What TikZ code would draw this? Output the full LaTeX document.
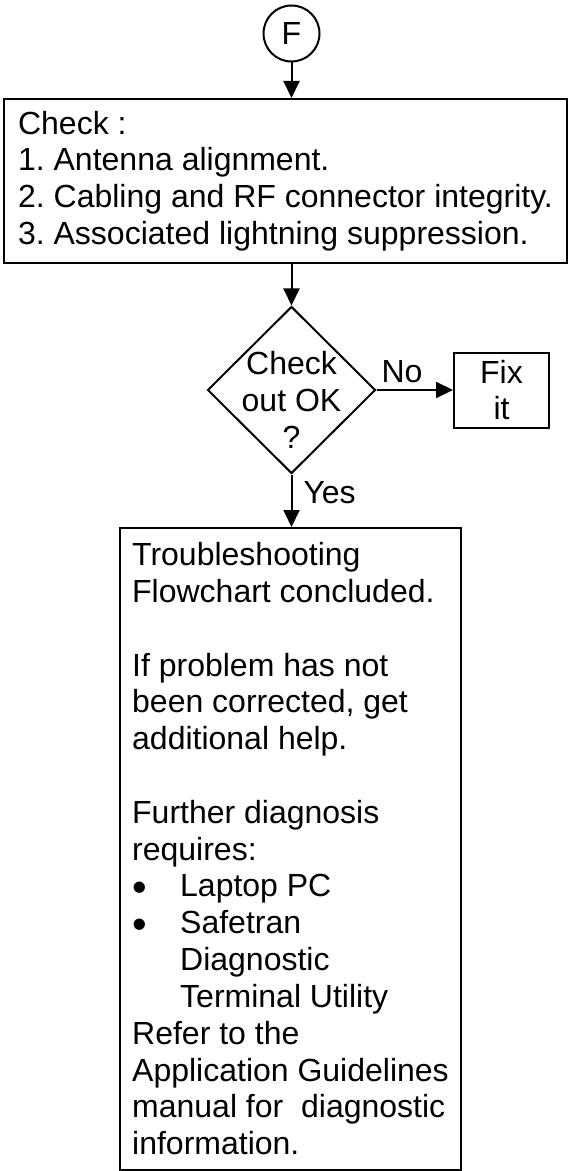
\documentclass[tikz,border=0pt]{standalone}
\usepackage{fontspec}
\setmainfont{Liberation Sans}
\usetikzlibrary{arrows.meta,shapes.geometric}
\frenchspacing
% bullet mark for the list items
\newcommand\listmark{\makebox[24pt][l]{\raisebox{-2.5pt}{\scalebox{1.3}{\textbullet}}}}
\begin{document}
\begin{tikzpicture}[x=0.5pt, y=-0.5pt,
  every node/.style={font=\fontsize{16pt}{18.4pt}\selectfont, line width=1pt},
  box/.style={draw, rectangle, inner sep=0pt},
  link/.style={draw, line width=1pt, -{Triangle[length=8.5pt,width=8pt]}},
  tag/.style={inner sep=0pt, anchor=base west}
]
\useasboundingbox (0,0) rectangle (568,1171);

% connector and checklist
\node[circle, draw, minimum size=28pt, inner sep=0pt] (F) at (291.5,33.5) {F};
\node[box, minimum width=281.5pt, minimum height=82pt, align=left] (chk) at (285.5,181)
  {Check :\\1. Antenna alignment.\\2. Cabling and RF connector integrity.\\3. Associated lightning suppression.};

% decision
\node[diamond, draw, minimum width=84pt, minimum height=83.5pt, inner sep=0pt,
  label={[align=center, yshift=-5pt]center:Check\\out OK\\?}] (dec) at (291.5,390) {};
\node[box, minimum width=47.5pt, minimum height=37.5pt, align=center] (fix) at (501.5,390) {Fix\\it};

% final instructions
\node[box, minimum width=170.5pt, minimum height=320.75pt, align=left] (res) at (290.5,848.75)
  {Troubleshooting\\
   Flowchart concluded.\\[18.4pt]
   If problem has not\\
   been corrected, get\\
   additional help.\\[18.4pt]
   Further diagnosis\\
   requires:\\
   \listmark Laptop PC\\
   \listmark Safetran\\
   \hspace*{24pt}Diagnostic\\
   \hspace*{24pt}Terminal Utility\\
   Refer to the\\
   Application Guidelines\\
   manual for\ \ diagnostic\\
   information.};

% connectors
\draw[link] (F.south) -- (F.south |- chk.north);
\draw[link] (chk.south -| dec.north) -- (dec.north);
\draw[link] (dec.east) -- node[tag, pos=0, xshift=2pt, yshift=4pt] {No} (fix.west);
\draw[link] (dec.south) -- node[tag, pos=0.55, xshift=5.5pt] {Yes} (dec.south |- res.north);
\end{tikzpicture}
\end{document}
